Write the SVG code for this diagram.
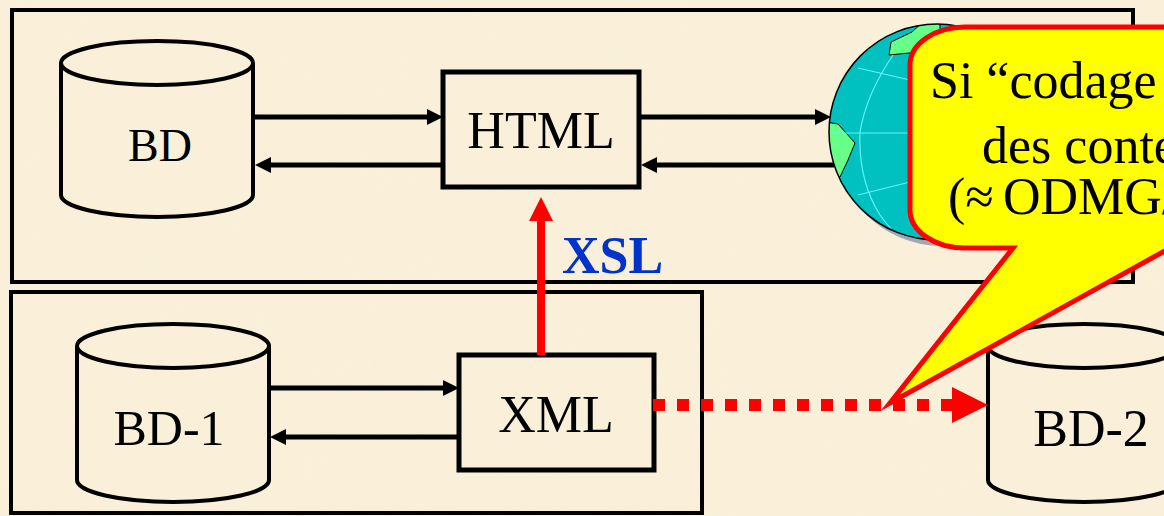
<svg xmlns="http://www.w3.org/2000/svg" width="1164" height="516" viewBox="0 0 1164 516">
  <style>
    .frame { fill: none; stroke: #000; stroke-width: 4; }
    .cyl { fill: #FAF0DA; stroke: #000; stroke-width: 4; }
    .box { fill: #FAF0DA; stroke: #000; stroke-width: 5; }
    .lbl { font-family: "Liberation Serif", "Times New Roman", serif; fill: #000; text-anchor: middle; }
    .flow { stroke: #000; stroke-width: 5; fill: none; marker-end: url(#blackHead); }
    .note { font-family: "Liberation Serif", "Times New Roman", serif; font-size: 52px; fill: #000; }
  </style>
  <defs>
    <marker id="blackHead" viewBox="0 0 16 16" refX="8" refY="8" markerWidth="16" markerHeight="16" markerUnits="userSpaceOnUse" orient="auto">
      <path d="M0,0 L16,8 L0,16 Z" fill="#000"/>
    </marker>
    <marker id="redHead" viewBox="0 0 24 24" refX="12" refY="12" markerWidth="24" markerHeight="24" markerUnits="userSpaceOnUse" orient="auto">
      <path d="M0,0 L24,12 L0,24 Z" fill="#FF0000"/>
    </marker>
    <filter id="paper" x="0" y="0" width="100%" height="100%">
      <feTurbulence type="fractalNoise" baseFrequency="0.02" numOctaves="3" seed="7"/>
      <feColorMatrix type="matrix" values="0 0 0 0 0.93  0 0 0 0 0.86  0 0 0 0 0.70  0 0 0 0.35 -0.05"/>
    </filter>
    <clipPath id="globeClip">
      <circle cx="937" cy="132" r="108"/>
    </clipPath>
  </defs>

  <!-- parchment background -->
  <rect x="0" y="0" width="1164" height="516" fill="#FAF0DA"/>
  <rect x="0" y="0" width="1164" height="516" filter="url(#paper)" opacity="0.5"/>

  <!-- framing boxes -->
  <g id="top-frame">
    <rect class="frame" x="12" y="10" width="1121" height="272"/>
  </g>
  <g id="bottom-frame">
    <rect class="frame" x="11" y="292" width="691" height="221"/>
  </g>

  <!-- database BD -->
  <g id="bd">
    <path class="cyl" d="M61,63 L61,195 A96,22 0 0 0 253,195 L253,63"/>
    <ellipse class="cyl" cx="157" cy="63" rx="96" ry="22"/>
    <text class="lbl" x="160" y="161" font-size="46">BD</text>
  </g>

  <!-- HTML -->
  <g id="html">
    <rect class="box" x="443" y="72" width="196" height="115"/>
    <text class="lbl" x="541" y="148" font-size="52">HTML</text>
  </g>

  <!-- Web globe -->
  <g id="web">
    <circle cx="942" cy="138" r="108" fill="#9FA9B3"/>
    <circle cx="937" cy="132" r="108" fill="#00C0C0"/>
    <g clip-path="url(#globeClip)">
      <path d="M889,55 L891,42 L912,32 L925,20 L940,20 L940,50 Z" fill="#66FF88" stroke="#000" stroke-width="1"/>
      <path d="M826,122 L838,124 L855,143 L848,160 L840,177 L826,180 Z" fill="#66FF88" stroke="#000" stroke-width="1"/>
      <g fill="none" stroke="#5FF5F5" stroke-width="1.2">
        <path d="M893,55 Q866,95 860,132 Q858,180 880,215 Q892,232 905,242"/>
        <path d="M858,68 L910,80"/>
        <path d="M832,133 L910,133"/>
        <path d="M858,195 L910,182"/>
      </g>
    </g>
    <circle cx="937" cy="132" r="108" fill="none" stroke="#000" stroke-width="1.5"/>
  </g>

  <!-- database BD-1 -->
  <g id="bd-1">
    <path class="cyl" d="M77,346 L77,480 A96,22 0 0 0 269,480 L269,346"/>
    <ellipse class="cyl" cx="173" cy="346" rx="96" ry="22"/>
    <text class="lbl" x="169" y="445" font-size="50">BD-1</text>
  </g>

  <!-- XML -->
  <g id="xml">
    <rect class="box" x="459" y="355" width="195" height="115"/>
    <text class="lbl" x="556" y="432" font-size="52">XML</text>
  </g>

  <!-- database BD-2 -->
  <g id="bd-2">
    <path class="cyl" d="M988,346 L988,480 A96,22 0 0 0 1180,480 L1180,346"/>
    <ellipse class="cyl" cx="1084" cy="346" rx="96" ry="22"/>
    <text class="lbl" x="1091" y="446" font-size="52">BD-2</text>
  </g>

  <!-- connectors -->
  <g id="connectors">
    <line class="flow" x1="253" y1="117" x2="435" y2="117"/>
    <line class="flow" x1="443" y1="165" x2="263" y2="165"/>
    <line class="flow" x1="639" y1="117" x2="823" y2="117"/>
    <line class="flow" x1="834" y1="165" x2="649" y2="165"/>
    <line class="flow" x1="269" y1="388" x2="451" y2="388"/>
    <line class="flow" x1="459" y1="437" x2="278" y2="437"/>
    <!-- XSL transformation XML -> HTML -->
    <line x1="541" y1="355" x2="541" y2="209" stroke="#FF0000" stroke-width="8" marker-end="url(#redHead)"/>
    <text x="562" y="273" font-family="'Liberation Serif', 'Times New Roman', serif" font-size="52" font-weight="bold" fill="#0033CC">XSL</text>
    <!-- dotted exchange XML -> BD-2 -->
    <line x1="653" y1="405" x2="953" y2="405" stroke="#FF0000" stroke-width="12" stroke-dasharray="12 12"/>
    <path d="M952,387 L988,405 L952,423 Z" fill="#FF0000"/>
  </g>

  <!-- speech callout -->
  <g id="callout">
    <path d="M965,27 L1200,27 L1200,248 L1170,248 L890,403 L1013,248 L965,248 A55,38 0 0 1 910,210 L910,65 A55,38 0 0 1 965,27 Z" fill="#FFFF00" stroke="#FF0000" stroke-width="5" stroke-miterlimit="12"/>
    <text class="note" x="930" y="98">Si “codage</text>
    <text class="note" x="982" y="163" font-size="50">des conte</text>
    <text class="note" y="214" font-size="48"><tspan x="948">(≈</tspan><tspan x="1003">ODMG/</tspan></text>
  </g>
</svg>
